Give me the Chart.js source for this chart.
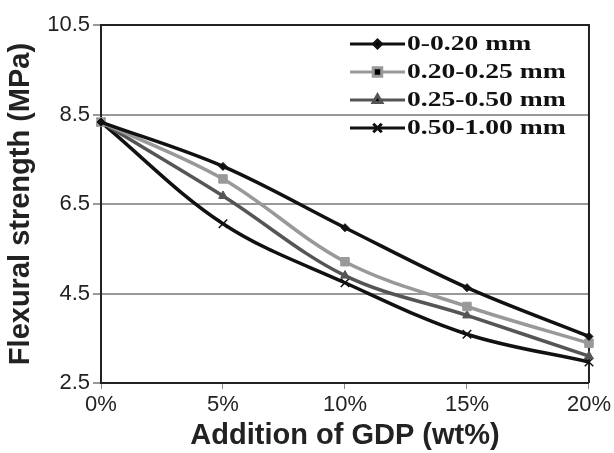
<!DOCTYPE html>
<html>
<head>
<meta charset="utf-8">
<script src="https://cdn.jsdelivr.net/npm/chart.js@4"></script>
<style>
  html, body { margin: 0; padding: 0; background: #fff; }
  #wrap { width: 614px; height: 453px; }
</style>
</head>
<body>
<div id="wrap"><canvas id="flexChart" width="614" height="453"></canvas></div>
<script>
const categories = ['0%', '5%', '10%', '15%', '20%'];
const seriesNames = ['0-0.20 mm', '0.20-0.25 mm', '0.25-0.50 mm', '0.50-1.00 mm'];
const s020 = [8.33, 7.34, 5.97, 4.63, 3.54];
const s2025 = [8.33, 7.06, 5.21, 4.21, 3.39];
const s2550 = [8.33, 6.68, 4.90, 4.01, 3.10];
const s50100 = [8.33, 6.06, 4.74, 3.59, 2.97];
const yTicks = [2.5, 4.5, 6.5, 8.5, 10.5];

const lineColors = ['#111111', '#999999', '#555555', '#111111'];
const markers = ['rectRot', 'rect', 'triangle', 'crossRot'];
const markerSizes = [4, 6, 5, 6];

function makeSet(i, values) {
    return {
        label: seriesNames[i],
        data: values,
        borderColor: lineColors[i],
        backgroundColor: lineColors[i],
        pointStyle: markers[i],
        pointRadius: markerSizes[i],
        pointBorderWidth: i === 3 ? 1.5 : 1,
        borderWidth: 3.5,
        tension: 0.35,
        fill: false
    };
}

// frame (top and right edges) drawn under the lines
const framePlugin = {
    id: 'frame',
    beforeDatasetsDraw(chart) {
        const a = chart.chartArea;
        const c = chart.ctx;
        c.save();
        c.strokeStyle = '#222';
        c.lineWidth = 2;
        c.beginPath();
        c.moveTo(a.left, a.top);
        c.lineTo(a.right, a.top);
        c.lineTo(a.right, a.bottom);
        c.stroke();
        c.restore();
    }
};

// legend inside the plot, no box, line with marker in the middle
const insideLegend = {
    id: 'insideLegend',
    afterDraw(chart) {
        const c = chart.ctx;
        const x0 = 350, x1 = 405, yStart = 44, gap = 28;
        c.save();
        chart.data.datasets.forEach(function(ds, i) {
            const y = yStart + i * gap;
            c.strokeStyle = ds.borderColor;
            c.lineWidth = 3;
            c.beginPath();
            c.moveTo(x0, y);
            c.lineTo(x1, y);
            c.stroke();
            Chart.helpers.drawPoint(c, {
                pointStyle: ds.pointStyle,
                radius: ds.pointRadius,
                borderWidth: ds.pointBorderWidth,
                rotation: 0
            }, (x0 + x1) / 2, y);
            // the original legend text is stretched sideways
            c.save();
            c.translate(x1 + 2, y + 1);
            c.scale(1.38, 1);
            c.fillStyle = '#111';
            c.font = 'bold 20px "Liberation Serif"';
            c.textBaseline = 'middle';
            c.fillText(ds.label, 0, 0);
            c.restore();
        });
        c.restore();
    }
};

const ctx = document.getElementById('flexChart');

new Chart(ctx, {
    type: 'line',
    data: {
        labels: categories,
        datasets: [
            makeSet(0, s020),
            makeSet(1, s2025),
            makeSet(2, s2550),
            makeSet(3, s50100)
        ]
    },
    options: {
        responsive: false,
        animation: false,
        layout: { padding: { top: 25, right: 24, left: 0, bottom: 0 } },
        scales: {
            x: {
                offset: false,
                afterFit(axis) { axis.height = 70; },
                grid: {
                    drawOnChartArea: false,
                    color: '#888',
                    tickLength: 6
                },
                border: { color: '#222', width: 2 },
                ticks: {
                    color: '#222',
                    font: { family: '"Liberation Sans"', size: 22 },
                    padding: 3,
                    maxRotation: 0
                },
                title: {
                    display: true,
                    text: 'Addition of GDP (wt%)',
                    color: '#222',
                    font: { family: '"Liberation Sans"', size: 29, weight: 'bold' },
                    padding: { top: 0, bottom: 0 }
                }
            },
            y: {
                min: 2.5,
                max: 10.5,
                afterFit(axis) { axis.width = 101; },
                afterBuildTicks(axis) {
                    axis.ticks = yTicks.map(function(v) { return { value: v }; });
                },
                grid: {
                    color: '#999',
                    lineWidth: 2,
                    tickLength: 8
                },
                border: { color: '#222', width: 2 },
                ticks: {
                    color: '#222',
                    font: { family: '"Liberation Sans"', size: 22 },
                    padding: 3,
                    callback: function(v) { return v.toFixed(1); }
                },
                title: {
                    display: true,
                    text: 'Flexural strength (MPa)',
                    color: '#222',
                    font: { family: '"Liberation Sans"', size: 29, weight: 'bold' },
                    padding: { top: 4, bottom: 0 }
                }
            }
        },
        plugins: {
            legend: { display: false },
            tooltip: { enabled: false }
        }
    },
    plugins: [framePlugin, insideLegend]
});
</script>
</body>
</html>
